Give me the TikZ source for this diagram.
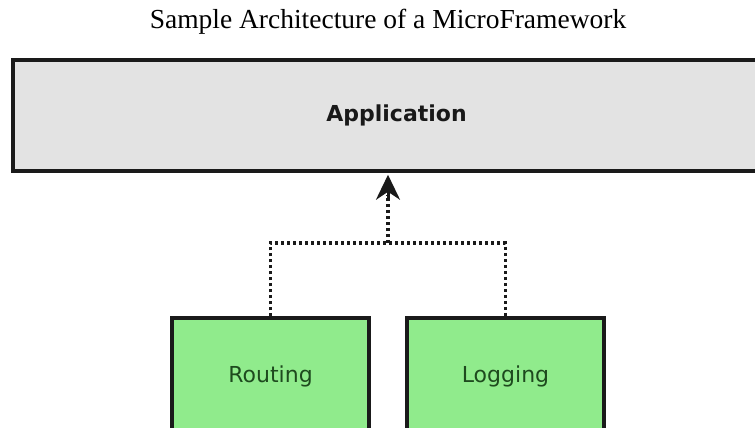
\documentclass[tikz,border=0pt]{standalone}
\usepackage{fontspec}
\setmainfont{Liberation Serif}
\newfontfamily\boxfont{DejaVu Sans}
\usetikzlibrary{arrows.meta}
\definecolor{appgray}{HTML}{E3E3E3}
\definecolor{modgreen}{HTML}{90EB8C}
\definecolor{modtext}{HTML}{1E4A1E}
\definecolor{edge}{HTML}{1A1A1A}
\tikzset{
  layerbox/.style={draw=edge, line width=3.5pt, fill=appgray, rectangle,
    inner sep=0pt, font=\boxfont\bfseries\fontsize{22}{24}\selectfont, text=black!90},
  modbox/.style={draw=edge, line width=3.5pt, fill=modgreen, rectangle,
    inner sep=0pt, minimum width=197pt, minimum height=116pt,
    font=\boxfont\fontsize{22}{24}\selectfont, text=modtext},
  dotline/.style={draw=edge, line width=3.4pt, dash pattern=on 3pt off 3pt},
}
\begin{document}
\begin{tikzpicture}[x=1pt, y=-1pt]
  \useasboundingbox (0,0) rectangle (755,428);
  \clip (0,0) rectangle (755,428);
  \fill[white] (0,0) rectangle (755,428);

  % title
  \node[font=\fontsize{27.5}{30}\selectfont] (title) at (388,22) {Sample Architecture of a MicroFramework};

  % application layer
  \node[layerbox, minimum width=767pt, minimum height=111pt] (app) at (396.5,115.5) {Application};

  % modules
  \node[modbox] (routing) at (270.5,376) {Routing};
  \node[modbox] (logging) at (505.5,376) {Logging};

  % junction of the dependency lines
  \coordinate (junc) at (388,243);
  \coordinate (tip) at ([yshift=-2pt]app.south -| junc);

  \draw[dotline] (routing.north) |- (junc) -| (logging.north);
  \draw[dotline] (junc) -- ([yshift=-20pt]tip);
  \draw[draw=edge, line width=3pt, -{Stealth[length=25pt,width=24pt,inset=8pt]}]
    ([yshift=-25pt]tip) -- (tip);
\end{tikzpicture}
\end{document}
